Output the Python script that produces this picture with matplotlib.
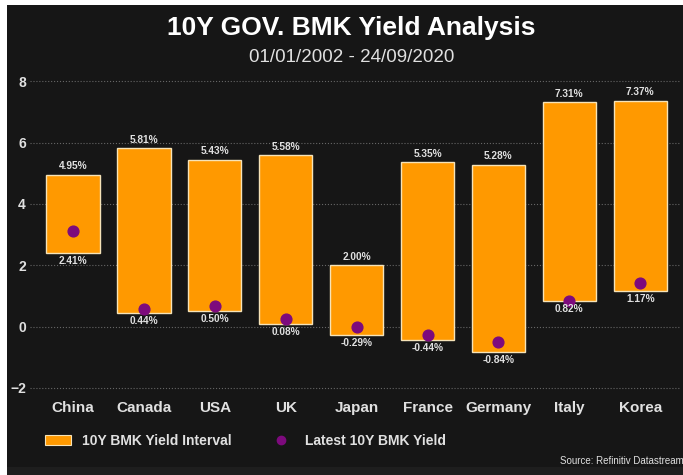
import numpy as np
import matplotlib.pyplot as plt
from matplotlib.patches import Patch, Rectangle
from matplotlib.lines import Line2D

plt.rcParams['font.family'] = ['Liberation Sans', 'DejaVu Sans']

countries = ['China', 'Canada', 'USA', 'UK', 'Japan', 'France', 'Germany', 'Italy', 'Korea']
high = [4.95, 5.81, 5.43, 5.58, 2.00, 5.35, 5.28, 7.31, 7.37]
low = [2.41, 0.44, 0.50, 0.08, -0.29, -0.44, -0.84, 0.82, 1.17]
latest = [3.11, 0.56, 0.67, 0.23, 0.00, -0.26, -0.51, 0.84, 1.43]
yticks = [-2, 0, 2, 4, 6, 8]

bg = '#161616'
orange = '#ff9900'
purple = '#7d0a7d'
txt = '#e0e0e0'

fig = plt.figure(figsize=(6.83, 4.75), dpi=100, facecolor='white')
# dark panel (thin white border on top and left as in the reference)
fig.patches.append(Rectangle((7 / 683, 0), 1, 1 - 5 / 475, transform=fig.transFigure,
                             facecolor=bg, edgecolor='none', zorder=-2))
fig.patches.append(Rectangle((7 / 683, 0), 1, 8 / 475, transform=fig.transFigure,
                             facecolor='#1e1e1e', edgecolor='none', zorder=-1))

ax = fig.add_axes([30 / 683, 1 - 394 / 475, 650 / 683, (394 - 72) / 475])
ax.set_facecolor('none')

x = np.arange(len(countries))
h = np.array(high) - np.array(low)
ax.bar(x, h, bottom=low, width=0.75, color=orange, edgecolor='#f6e3b8', linewidth=1, zorder=2)
ax.scatter(x, latest, s=60, color=purple, zorder=3)

for xi, hi, lo in zip(x, high, low):
    ax.text(xi, hi + 0.12, '%.2f%%' % hi, ha='center', va='bottom', fontsize=7.3,
            color=txt, fontweight='bold', zorder=4)
    ax.text(xi, lo - 0.1, '%.2f%%' % lo, ha='center', va='top', fontsize=7.3,
            color=txt, fontweight='bold', zorder=4)

ax.set_xlim(-0.607, 8.56)
ax.set_ylim(-2.2, 8.3)
ax.set_yticks(yticks)
ax.set_xticks(x)
ax.set_xticklabels(countries)
ax.tick_params(axis='both', length=0, colors=txt, labelsize=11)
ax.tick_params(axis='y', pad=3, labelsize=10)
ax.tick_params(axis='x', pad=5)
for lab in ax.get_xticklabels() + ax.get_yticklabels():
    lab.set_fontweight('bold')
ax.grid(axis='y', color='#666666', linestyle=':', linewidth=0.8, zorder=0)
for s in ax.spines.values():
    s.set_visible(False)

fig.text(0.515, 0.94, '10Y GOV. BMK Yield Analysis', ha='center', va='center',
         fontsize=19, fontweight='bold', color='white')
fig.text(0.515, 0.88, '01/01/2002 - 24/09/2020', ha='center', va='center',
         fontsize=13.5, color=txt)

handles = [Patch(facecolor=orange, edgecolor='#f6e3b8', linewidth=0.8),
           Line2D([], [], marker='o', linestyle='none', color=purple, markersize=6)]
leg = fig.legend(handles, ['10Y BMK Yield Interval', 'Latest 10Y BMK Yield'], ncol=2,
                 loc='center left', bbox_to_anchor=(0.047, 0.072), frameon=False,
                 prop={'weight': 'bold', 'size': 10},
                 columnspacing=2.6, handlelength=1.9, handletextpad=0.8)
for t in leg.get_texts():
    t.set_color(txt)

fig.text(0.82, 0.029, 'Source: Refinitiv Datastream', ha='left', va='center',
         fontsize=7, color=txt)

fig.savefig('out.png', dpi=100, facecolor=fig.get_facecolor())
